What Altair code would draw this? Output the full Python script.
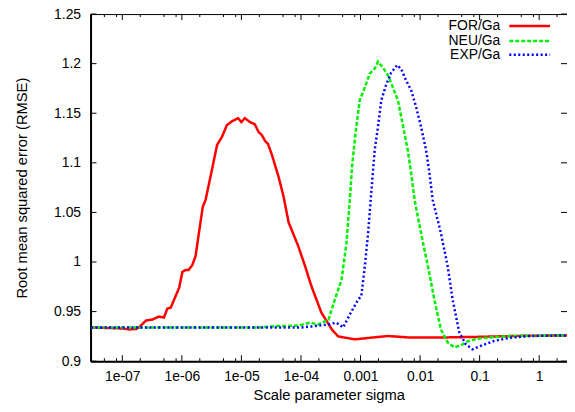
import altair as alt
import pandas as pd

# ---------------- data ----------------
series_names = ["FOR/Ga", "NEU/Ga", "EXP/Ga"]
series_colors = ["#ff0000", "#00f000", "#0000ff"]

for_sigma = [3e-8, 1e-7, 1.3e-7, 1.7e-7, 1.9e-7, 2.5e-7, 3.2e-7, 4.1e-7, 5e-7, 5.7e-7,
             6.5e-7, 7.4e-7, 9e-7, 1.02e-6, 1.16e-6, 1.3e-6, 1.5e-6, 1.7e-6, 1.93e-6, 2.25e-6,
             2.5e-6, 3.2e-6, 3.9e-6, 4.7e-6, 5.7e-6, 7e-6, 8.8e-6, 1e-5, 1.14e-5, 1.4e-5,
             1.67e-5, 1.95e-5, 2.2e-5, 2.5e-5, 2.8e-5, 3.25e-5, 4.2e-5, 5.1e-5, 6.2e-5, 9e-5,
             1.17e-4, 1.5e-4, 2.2e-4, 3.3e-4, 4.2e-4, 8e-4, 1.5e-3, 2.9e-3, 6.2e-3, 0.029,
             0.09, 0.43, 3]
for_rmse = [0.934, 0.933, 0.932, 0.9325, 0.934, 0.941, 0.942, 0.945, 0.944, 0.953,
            0.954, 0.962, 0.974, 0.990, 0.992, 0.992, 0.997, 1.006, 1.029, 1.056,
            1.0625, 1.093, 1.118, 1.126, 1.138, 1.142, 1.145, 1.141, 1.145, 1.141,
            1.139, 1.131, 1.128, 1.122, 1.119, 1.108, 1.086, 1.066, 1.04, 1.016,
            0.996, 0.9755, 0.949, 0.932, 0.925, 0.922, 0.9237, 0.9254, 0.924, 0.924,
            0.9245, 0.9255, 0.926]

neu_sigma = [3e-8, 2e-5, 3.7e-5, 6e-5, 9e-5, 1.42e-4, 1.95e-4, 2.9e-4, 3.7e-4, 4.8e-4,
             5.8e-4, 6.6e-4, 7.2e-4, 8.2e-4, 9.7e-4, 1.18e-3, 1.43e-3, 1.73e-3, 1.96e-3, 2.38e-3,
             2.9e-3, 3.5e-3, 4.24e-3, 5.1e-3, 6.2e-3, 7.1e-3, 8.1e-3, 0.0104, 0.0135, 0.0174,
             0.0224, 0.029, 0.0376, 0.0485, 0.063, 0.092, 0.175, 0.33, 3]
neu_rmse = [0.934, 0.934, 0.9354, 0.9356, 0.936, 0.9388, 0.937, 0.942, 0.962, 0.982,
            1.019, 1.0625, 1.096, 1.129, 1.163, 1.176, 1.19, 1.195, 1.202, 1.196,
            1.188, 1.176, 1.163, 1.139, 1.113, 1.089, 1.0625, 1.029, 0.996, 0.962,
            0.932, 0.919, 0.914, 0.916, 0.920, 0.9227, 0.9244, 0.9254, 0.926]

exp_sigma = [3e-8, 1e-4, 1.5e-4, 2.9e-4, 3.95e-4, 5.1e-4, 6.6e-4, 9.1e-4, 1.03e-3, 1.18e-3,
             1.34e-3, 1.48e-3, 1.73e-3, 1.96e-3, 2.23e-3, 2.7e-3, 3.28e-3, 4.13e-3, 4.82e-3, 5.83e-3,
             7.1e-3, 8.6e-3, 0.0104, 0.0126, 0.0144, 0.0163, 0.0224, 0.029, 0.0352, 0.0455,
             0.0587, 0.0758, 0.104, 0.175, 0.33, 0.71, 3]
exp_rmse = [0.934, 0.934, 0.935, 0.937, 0.9388, 0.934, 0.947, 0.962, 0.9655, 0.9956,
            1.029, 1.0625, 1.113, 1.136, 1.163, 1.179, 1.191, 1.1986, 1.1946, 1.183,
            1.173, 1.156, 1.136, 1.113, 1.089, 1.0625, 1.029, 0.996, 0.962, 0.929,
            0.917, 0.912, 0.9154, 0.9204, 0.9237, 0.9254, 0.926]

x_major = [1e-7, 1e-6, 1e-5, 1e-4, 1e-3, 1e-2, 1e-1, 1]
x_labels = ["1e-07", "1e-06", "1e-05", "1e-04", "0.001", "0.01", "0.1", "1"]
x_minor = [5e-8, 8e-8, 2e-7, 5e-7, 8e-7, 2e-6, 5e-6, 8e-6, 2e-5, 5e-5, 8e-5,
           2e-4, 5e-4, 8e-4, 2e-3, 5e-3, 8e-3, 0.02, 0.05, 0.08, 0.2, 0.5, 0.8, 2]
y_major = [0.9, 0.95, 1.0, 1.05, 1.1, 1.15, 1.2, 1.25]

# ---------------- build ----------------
rows = []
for name, xs, ys in [("FOR/Ga", for_sigma, for_rmse),
                     ("NEU/Ga", neu_sigma, neu_rmse),
                     ("EXP/Ga", exp_sigma, exp_rmse)]:
    for i, (a, b) in enumerate(zip(xs, ys)):
        rows.append({"series": name, "sigma": a, "rmse": b, "i": i})
df = pd.DataFrame(rows)

W, H = 479, 349
FONT = "Liberation Sans"

xscale = alt.Scale(type="log", domain=[2.93e-8, 2.93], nice=False)
yscale = alt.Scale(domain=[0.9, 1.25], nice=False, zero=False)

label_expr = "".join(
    f"datum.value < {v * 1.5} ? '{lab}' : " for v, lab in zip(x_major, x_labels)
) + "''"

x_axis = alt.Axis(values=x_major, labelExpr=label_expr, ticks=False, tickSize=0,
                  labelPadding=8, grid=False, title="Scale parameter sigma",
                  titlePadding=5, labelFlush=False, labelOverlap=False)
y_axis = alt.Axis(values=y_major, format="~g", ticks=False, tickSize=0,
                  labelPadding=10, grid=False,
                  title="Root mean squared error (RMSE)", titlePadding=24)

lines = alt.Chart(df).mark_line(clip=True, strokeWidth=2.5, strokeCap="butt").encode(
    x=alt.X("sigma:Q", scale=xscale, axis=x_axis),
    y=alt.Y("rmse:Q", scale=yscale, axis=y_axis),
    color=alt.Color("series:N", scale=alt.Scale(domain=series_names, range=series_colors),
                    legend=None),
    strokeDash=alt.StrokeDash("series:N",
                              scale=alt.Scale(domain=series_names,
                                              range=[[1, 0], [4, 2], [2, 2.5]]),
                              legend=None),
    order="i:Q",
)

def xticks(vals, top, length):
    d = pd.DataFrame({"sigma": vals})
    y0 = 0 if top else H
    y1 = length if top else H - length
    return alt.Chart(d).mark_rule(color="black", strokeWidth=1).encode(
        x=alt.X("sigma:Q", scale=xscale, axis=x_axis),
        y=alt.value(y0), y2=alt.value(y1))

def yticks(vals, right, length):
    d = pd.DataFrame({"rmse": vals})
    x0 = W if right else 0
    x1 = W - length if right else length
    return alt.Chart(d).mark_rule(color="black", strokeWidth=1).encode(
        y=alt.Y("rmse:Q", scale=yscale, axis=y_axis),
        x=alt.value(x0), x2=alt.value(x1))

tick_layers = [
    xticks(x_major, False, 6), xticks(x_major, True, 6),
    xticks(x_minor, False, 3), xticks(x_minor, True, 3),
    yticks(y_major, False, 6), yticks(y_major, True, 6),
]

legend_layers = []
legend_y = [12, 27, 41]
dashes = [[1, 0], [4, 2], [2, 2.5]]
for name, col, yy, dash in zip(series_names, series_colors, legend_y, dashes):
    d = pd.DataFrame({"label": [name]})
    legend_layers.append(
        alt.Chart(d).mark_text(align="right", baseline="middle", font=FONT,
                               fontSize=14, color="black").encode(
            text="label:N", x=alt.value(412), y=alt.value(yy)))
    legend_layers.append(
        alt.Chart(d).mark_rule(color=col, strokeWidth=2.5, strokeDash=dash,
                               strokeCap="butt").encode(
            x=alt.value(421), x2=alt.value(462), y=alt.value(yy)))

chart = alt.layer(lines, *tick_layers, *legend_layers).properties(
    width=W, height=H,
    autosize=alt.AutoSizeParams(type="none"),
    padding={"left": 83, "top": 5, "right": 0, "bottom": 50},
    background="white",
).configure_view(
    stroke="black", strokeWidth=1
).configure_axis(
    domainColor="black", domainWidth=2,
    labelFont=FONT, labelFontSize=14, labelColor="black",
    titleFont=FONT, titleFontSize=14.8, titleColor="black", titleFontWeight="normal",
)

chart.save("out.html", embed_options={"renderer": "svg", "actions": False})
